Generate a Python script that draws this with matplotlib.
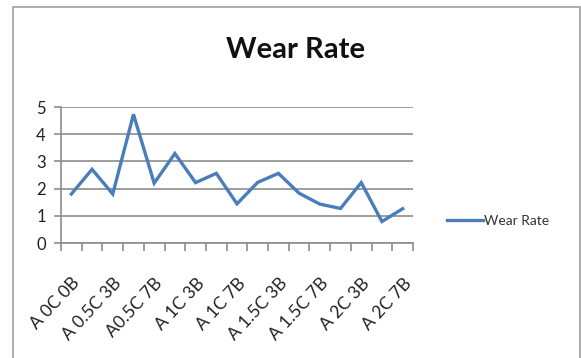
import matplotlib
matplotlib.use("Agg")
import numpy as np
from matplotlib import pyplot as plt
import matplotlib.patches as patches
import matplotlib.transforms as mtrans

plt.rcParams['font.family'] = ['Lato', 'DejaVu Sans']

# 17 samples, only every other one gets a label on the axis
labels = ["A 0C 0B", "", "A 0.5C 3B", "", "A0.5C 7B", "", "A 1C 3B", "",
          "A 1C 7B", "", "A 1.5C 3B", "", "A 1.5C 7B", "", "A 2C 3B", "",
          "A 2C 7B"]
wear_rate = [1.80, 2.71, 1.80, 4.73, 2.20, 3.29, 2.22, 2.56, 1.44,
             2.23, 2.56, 1.83, 1.43, 1.27, 2.22, 0.79, 1.26]

LINE_CLR = '#4a7ebb'
GRID_CLR = '#8c8c8c'

fig = plt.figure(figsize=(5.81, 3.58), dpi=100)

# chart frame
fig.patches.append(patches.Rectangle(
    (13/581, -0.01), (580-13)/581, 1 - 7/358 + 0.01,
    transform=fig.transFigure, fill=False, edgecolor='#a0a0a0', linewidth=1.2))

ax = fig.add_axes([61/581, 1-243/358, (413-61)/581, (243-107)/358])

x = np.arange(len(wear_rate))
ax.plot(x, wear_rate, color=LINE_CLR, linewidth=2.4, label="Wear Rate",
        solid_joinstyle='miter')

ax.set_xlim(-0.5, len(wear_rate)-0.5)
ax.set_ylim(0, 5)
ax.set_yticks(range(0, 6))
ax.yaxis.grid(True, color=GRID_CLR, linewidth=1.2)
ax.set_axisbelow(True)

# category boundaries carry the tick marks, labels sit at the centres
ax.set_xticks(np.arange(-0.5, len(wear_rate)), minor=False)
ax.set_xticklabels([])
ax.set_xticks(x, minor=True)
ax.set_xticklabels(labels, minor=True, rotation=47, ha='right',
                   rotation_mode='anchor', fontsize=12.5, color='#222222')
shift = mtrans.ScaledTranslation(4/100, 0, fig.dpi_scale_trans)
for lbl in ax.get_xticklabels(minor=True):
    lbl.set_transform(lbl.get_transform() + shift)
ax.tick_params(axis='x', which='major', length=6, color=GRID_CLR, width=1.2)
ax.tick_params(axis='x', which='minor', length=0, pad=23)
ax.tick_params(axis='y', length=5, color=GRID_CLR, width=1.2, labelsize=12,
               labelcolor='#222222', pad=6)

for s in ['top', 'right']:
    ax.spines[s].set_visible(False)
for s in ['left', 'bottom']:
    ax.spines[s].set_color(GRID_CLR)
    ax.spines[s].set_linewidth(1.2)

fig.text(296/581, 1-50/358, "Wear Rate", ha='center', va='center',
         fontsize=21, fontweight='bold', color='#111111')

leg = fig.legend(loc='center left', bbox_to_anchor=(440/581, 1-221/358),
                 frameon=False, fontsize=10, handlelength=2.6,
                 handletextpad=0.1, borderpad=0)
for t in leg.get_texts():
    t.set_color('#333333')

plt.savefig("out.png", dpi=100)
